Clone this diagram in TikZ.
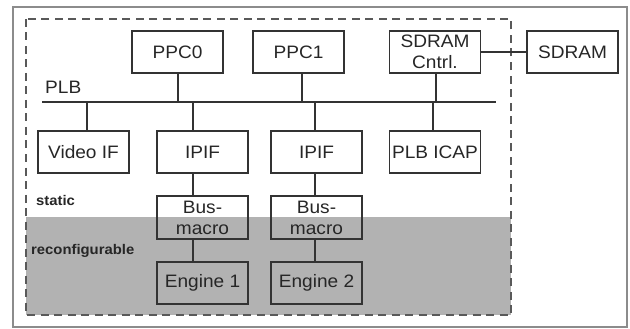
\documentclass[tikz,border=0pt]{standalone}
\usepackage{fontspec}
\setmainfont[FakeStretch=1.06]{Liberation Sans}
\begin{document}
\begin{tikzpicture}[x=1pt,y=-1pt,
  blk/.style={draw=black!80, line width=1.1pt, minimum width=91pt, minimum height=42pt,
    inner sep=0pt, align=center, text=black!85,
    font=\fontsize{18}{21}\selectfont},
  wire/.style={draw=black!80, line width=1.1pt},
  zonelabel/.style={anchor=west, inner sep=0pt, text=black!85,
    font=\fontsize{14}{16}\selectfont\bfseries}]
  \useasboundingbox (0,0) rectangle (630,329);
  % outer frame
  \draw[black!45, line width=1.4pt] (13,7) rectangle (627,327);
  % reconfigurable area and FPGA boundary
  \fill[black!30] (26,217) rectangle (511,315);
  \draw[black!65, line width=1.3pt, dash pattern=on 8pt off 5.5pt] (26,19) rectangle (511,315);

  % processors and memory
  \node[blk] (ppc0) at (177.5,52) {PPC0};
  \node[blk] (ppc1) at (298.5,52) {PPC1};
  \node[blk] (sdc)  at (435,52) {SDRAM\\Cntrl.};
  \node[blk] (sdram) at (572.5,52) {SDRAM};

  % bus
  \coordinate (busL) at (42,102);
  \coordinate (busR) at (496,102);
  \draw[wire] (busL) -- (busR);
  \node[anchor=base west, inner sep=0pt, text=black!85, font=\fontsize{18}{21}\selectfont] (plb) at (45,94) {PLB};

  % bus peripherals
  \node[blk] (vid)   at (83.5,152) {Video IF};
  \node[blk] (ipifA) at (202.5,152) {IPIF};
  \node[blk] (ipifB) at (316.5,152) {IPIF};
  \node[blk] (icap)  at (435,152) {PLB ICAP};
  \node[blk, minimum height=43pt] (bmA) at (202.5,217.5) {Bus-\\macro};
  \node[blk, minimum height=43pt] (bmB) at (316.5,217.5) {Bus-\\macro};
  \node[blk] (engA) at (202.5,283) {Engine 1};
  \node[blk] (engB) at (316.5,283) {Engine 2};

  % zone labels
  \node[zonelabel] (stat) at (36,200) {static};
  \node[zonelabel] (reconf) at (31,251) {reconfigurable};

  % connections to the bus
  \draw[wire] ([xshift=0.5pt]ppc0.south) -- ([xshift=0.5pt]ppc0.south |- busL);
  \draw[wire] ([xshift=3.5pt]ppc1.south) -- ([xshift=3.5pt]ppc1.south |- busL);
  \draw[wire] ([xshift=1pt]sdc.south) -- ([xshift=1pt]sdc.south |- busL);
  \draw[wire] ([xshift=3.5pt]vid.north) -- ([xshift=3.5pt]vid.north |- busL);
  \draw[wire] ([xshift=-9.5pt]ipifA.north) -- ([xshift=-9.5pt]ipifA.north |- busL);
  \draw[wire] ([xshift=-1.5pt]ipifB.north) -- ([xshift=-1.5pt]ipifB.north |- busL);
  \draw[wire] ([xshift=-2pt]icap.north) -- ([xshift=-2pt]icap.north |- busL);
  % memory link
  \draw[wire] (sdc.east) -- (sdram.west);
  % chains to the engines
  \draw[wire] ([xshift=-9.5pt]ipifA.south) -- ([xshift=-9.5pt]bmA.north);
  \draw[wire] ([xshift=-9.5pt]bmA.south) -- ([xshift=-9.5pt]engA.north);
  \draw[wire] ([xshift=-1.5pt]ipifB.south) -- ([xshift=-1.5pt]bmB.north);
  \draw[wire] ([xshift=-1.5pt]bmB.south) -- ([xshift=-1.5pt]engB.north);
\end{tikzpicture}
\end{document}
